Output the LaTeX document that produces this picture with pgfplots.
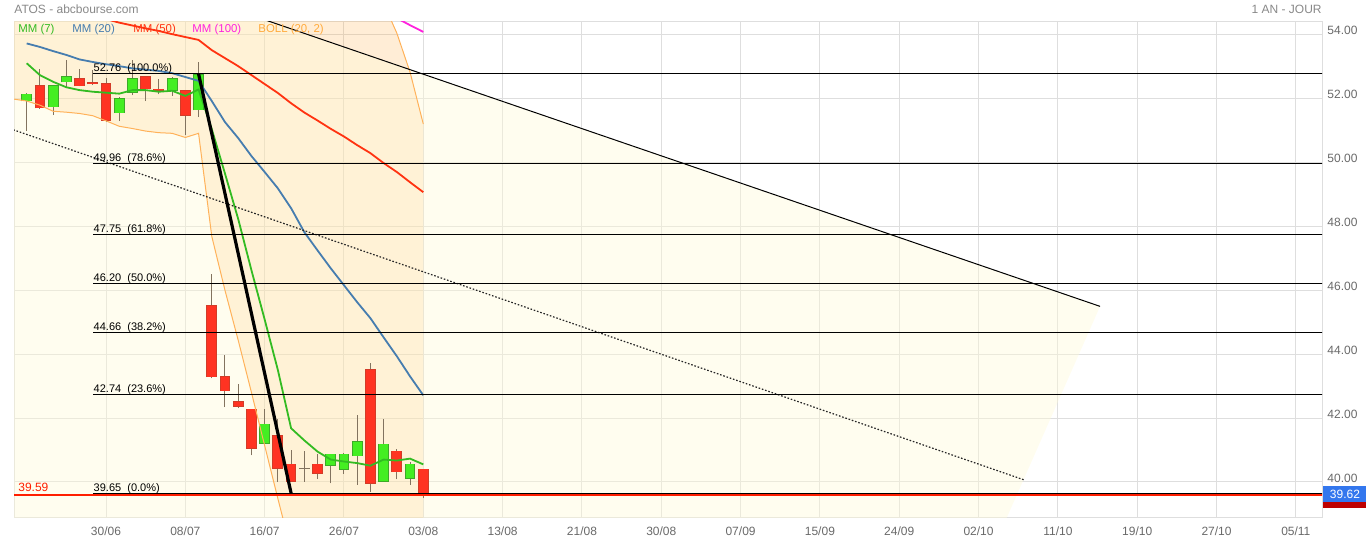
\documentclass[border=0pt]{standalone}
\usepackage{fontspec}
\setmainfont{Liberation Sans}
\usepackage{pgfplots}
\usepackage{pgfplotstable}
\pgfplotsset{compat=1.18}
\usepgfplotslibrary{fillbetween}
\usetikzlibrary{calc}

\definecolor{cream}{RGB}{255,250,215}
\definecolor{bollc}{RGB}{255,170,60}
\definecolor{bollline}{RGB}{255,178,90}
\definecolor{mm7}{RGB}{51,187,34}
\definecolor{mm20}{RGB}{70,125,175}
\definecolor{mm50}{RGB}{255,51,17}
\definecolor{mm100}{RGB}{255,34,221}
\definecolor{gfill}{RGB}{68,238,34}
\definecolor{gdraw}{RGB}{60,170,40}
\definecolor{rfill}{RGB}{255,51,34}
\definecolor{rdraw}{RGB}{210,60,40}
\definecolor{wick}{RGB}{130,115,95}
\definecolor{gridc}{RGB}{222,222,222}
\definecolor{txtc}{RGB}{105,105,105}
\definecolor{titlec}{RGB}{136,136,136}
\definecolor{lblblue}{RGB}{51,119,238}
\definecolor{lblred}{RGB}{190,0,0}
\definecolor{supred}{RGB}{255,30,0}

% x = trading day (0 = 30/06), l = low, lo = body bottom, hi = body top, h = high
\pgfplotstableread{
x l lo hi h
-6 50.97 51.90 52.14 52.16
-4 51.47 51.71 52.40 52.41
-3 52.31 52.49 52.68 53.19
1 51.28 51.53 51.99 52.03
2 52.09 52.17 52.62 53.19
5 52.07 52.23 52.62 52.67
7 51.41 51.62 52.75 53.13
12 41.14 41.20 41.82 42.27
17 39.96 40.50 40.88 40.88
18 40.26 40.38 40.88 40.92
19 39.91 40.81 41.27 42.10
21 40.00 40.00 41.20 41.96
23 39.91 40.10 40.57 40.64
}\greenc

\pgfplotstableread{
x l lo hi h
-5 51.67 51.68 52.40 52.91
-2 52.37 52.37 52.62 52.91
-1 52.41 52.44 52.50 52.88
0 51.25 51.30 52.46 52.63
3 51.91 52.28 52.69 52.69
4 52.12 52.23 52.30 52.60
6 50.84 51.45 52.25 52.25
8 43.24 43.28 45.52 46.49
9 42.34 42.84 43.30 43.96
10 42.31 42.35 42.52 43.05
11 40.83 41.04 42.29 42.29
13 40.00 40.41 41.46 41.96
14 40.00 40.00 40.57 40.99
16 40.10 40.26 40.57 40.88
20 39.68 39.95 43.52 43.71
22 40.08 40.31 40.98 41.02
24 39.49 39.62 40.41 40.42
}\redc

\pgfplotstableread{
x l lo hi h
15 40.00 40.40 40.44 40.96
}\dojic

\pgfplotstableread{
x up lo
-7 54.70 51.97
-6 54.70 51.91
-5 54.68 51.78
-4 54.65 51.59
-3 54.62 51.56
-2 54.60 51.52
-1 54.58 51.45
0 54.58 51.29
1 54.60 51.12
2 54.62 51.05
3 54.63 50.97
4 54.64 50.92
5 54.65 50.90
6 54.66 50.77
7 54.70 50.90
8 55.20 47.68
9 55.60 45.99
10 55.90 44.43
11 56.10 42.80
12 56.20 41.14
13 56.20 39.48
14 56.10 37.86
15 56.00 37.40
16 55.80 37.10
17 55.60 36.90
18 55.40 36.80
19 55.20 36.80
20 55.10 36.90
21 54.96 37.00
22 54.03 37.20
23 52.81 37.40
24 51.19 37.60
}\boll

\tikzset{fibl/.style={anchor=base west, inner sep=0pt, yshift=1pt, font=\fontsize{5.5}{6}\selectfont, text=black}}
\pgfplotsset{
  wickplot/.style={quiver={u=0, v=\thisrow{h}-\thisrow{l}}, wick, line width=0.5pt},
  bodyout/.style={quiver={u=0, v=\thisrow{hi}-\thisrow{lo}}, line width=5.4pt},
  bodyin/.style={quiver={u=0, v=\thisrow{hi}-\thisrow{lo}-0.034}, line width=4.4pt},
  fibline/.style={black, line width=0.55pt},
}

\begin{document}
\begin{tikzpicture}
\begin{axis}[name=ax, scale only axis, width=654pt, height=247.9pt,
  xmin=-6.96, xmax=91.98, ymin=38.88, ymax=54.38,
  xtick={0,6,...,90},
  xticklabels={30/06,08/07,16/07,26/07,03/08,13/08,21/08,30/08,07/09,15/09,24/09,02/10,11/10,19/10,27/10,05/11},
  ytick={40,42,...,54}, yticklabel pos=right,
  major tick length=0pt,
  grid=major, major grid style={draw=gridc, line width=0.5pt},
  axis line style={draw=gridc, line width=0.5pt},
  tick label style={font=\fontsize{6}{7}\selectfont, text=txtc},
  x tick label style={anchor=north, inner sep=0pt, yshift=-4.5pt},
  y tick label style={anchor=west, inner sep=0pt, xshift=2.5pt, yshift=1.8pt,
    /pgf/number format/.cd, fixed, fixed zerofill, precision=2, assume math mode=true},
  clip mode=individual,
]
% cream background region
\addplot[draw=none, fill=cream, fill opacity=0.4] coordinates {(-8,56) (1.07,56) (75.19,45.49) (67.19,38) (-8,38)} -- cycle;
% Bollinger band fill
\addplot[draw=none, name path=bu] table[x=x,y=up]{\boll};
\addplot[draw=none, name path=bl] table[x=x,y=lo]{\boll};
\addplot[bollc, fill opacity=0.21, draw=none] fill between[of=bu and bl];

% candles: wicks
\addplot[wickplot] table[x=x,y=l]{\greenc};
\addplot[wickplot] table[x=x,y=l]{\redc};
\addplot[wickplot] table[x=x,y=l]{\dojic};
% candles: bodies
\addplot[bodyout, gdraw] table[x=x,y=lo]{\greenc};
\addplot[bodyin, gfill] table[x=x,y expr=\thisrow{lo}+0.017]{\greenc};
\addplot[bodyout, rdraw] table[x=x,y=lo]{\redc};
\addplot[bodyin, rfill] table[x=x,y expr=\thisrow{lo}+0.017]{\redc};
\addplot[quiver={u=0, v=\thisrow{hi}-\thisrow{lo}}, line width=5.4pt, wick] table[x=x,y=lo]{\dojic};

% Bollinger lines
\addplot[bollline, line width=0.5pt] table[x=x,y=up]{\boll};
\addplot[bollline, line width=0.5pt] table[x=x,y=lo]{\boll};

% moving averages
\addplot[mm50, line width=0.9pt] coordinates {(0,54.47) (1,54.36) (2,54.27) (3,54.18) (4,54.10) (5,54.00) (6,53.91) (7,53.82) (8,53.50) (9,53.25) (10,53.00) (11,52.72) (12,52.44) (13,52.16) (14,51.84) (15,51.55) (16,51.30) (17,51.04) (18,50.80) (19,50.53) (20,50.28) (21,49.97) (22,49.69) (23,49.37) (24,49.06)};
\addplot[mm100, line width=0.9pt] coordinates {(22,54.50) (23,54.28) (24,54.07)};
\addplot[mm20, line width=0.9pt] coordinates {(-6,53.71) (-5,53.60) (-4,53.47) (-3,53.35) (-2,53.21) (-1,53.13) (0,53.06) (1,53.00) (2,52.93) (3,52.89) (4,52.85) (5,52.78) (6,52.66) (7,52.54) (8,51.91) (9,51.25) (10,50.75) (11,50.19) (12,49.69) (13,49.18) (14,48.56) (15,47.81) (16,47.24) (17,46.68) (18,46.15) (19,45.62) (20,45.12) (21,44.52) (22,43.93) (23,43.30) (24,42.71)};
\addplot[mm7, line width=0.9pt] coordinates {(-6,53.09) (-5,52.72) (-4,52.51) (-3,52.34) (-2,52.25) (-1,52.20) (0,52.17) (1,52.14) (2,52.25) (3,52.25) (4,52.20) (5,52.23) (6,52.07) (7,52.27) (8,51.03) (9,49.64) (10,48.22) (11,46.62) (12,45.08) (13,43.50) (14,41.68) (15,41.30) (16,40.95) (17,40.70) (18,40.64) (19,40.59) (20,40.51) (21,40.70) (22,40.67) (23,40.73) (24,40.55)};

% trend lines
\addplot[black, line width=0.5pt] coordinates {(12,54.45) (75.19,45.49)};
\addplot[black!85, line width=0.6pt, dash pattern=on 0.8pt off 0.9pt] coordinates {(-7.5,51.08) (69.41,40.07)};

% support line
\addplot[supred, line width=1.2pt] coordinates {(-8,39.59) (93,39.59)};

% Fibonacci levels
\addplot[fibline] coordinates {(-0.96,52.76) (93,52.76)};
\addplot[fibline] coordinates {(-0.96,49.96) (93,49.96)};
\addplot[fibline] coordinates {(-0.96,47.75) (93,47.75)};
\addplot[fibline] coordinates {(-0.96,46.20) (93,46.20)};
\addplot[fibline] coordinates {(-0.96,44.66) (93,44.66)};
\addplot[fibline] coordinates {(-0.96,42.74) (93,42.74)};
\addplot[fibline] coordinates {(-0.96,39.65) (93,39.65)};
\addplot[black, line width=1.6pt] coordinates {(7,52.76) (14,39.65)};

\node[fibl] at (axis cs:-0.96,52.76) {52.76\ \ (100.0\%)};
\node[fibl] at (axis cs:-0.96,49.96) {49.96\ \ (78.6\%)};
\node[fibl] at (axis cs:-0.96,47.75) {47.75\ \ (61.8\%)};
\node[fibl] at (axis cs:-0.96,46.20) {46.20\ \ (50.0\%)};
\node[fibl] at (axis cs:-0.96,44.66) {44.66\ \ (38.2\%)};
\node[fibl] at (axis cs:-0.96,42.74) {42.74\ \ (23.6\%)};
\node[fibl] at (axis cs:-0.96,39.65) {39.65\ \ (0.0\%)};

\node[anchor=base west, inner sep=0pt, yshift=1.8pt, font=\fontsize{6}{7}\selectfont, text=supred] at (axis cs:-6.66,39.59) {39.59};

% legend
\node[anchor=west, inner sep=0pt, font=\fontsize{5.7}{6.5}\selectfont, text=mm7] at (axis cs:-6.66,54.14) {MM (7)};
\node[anchor=west, inner sep=0pt, font=\fontsize{5.7}{6.5}\selectfont, text=mm20] at (axis cs:-2.57,54.14) {MM (20)};
\node[anchor=west, inner sep=0pt, font=\fontsize{5.7}{6.5}\selectfont, text=mm50] at (axis cs:2.04,54.14) {MM (50)};
\node[anchor=west, inner sep=0pt, font=\fontsize{5.7}{6.5}\selectfont, text=mm100] at (axis cs:6.51,54.14) {MM (100)};
\node[anchor=west, inner sep=0pt, font=\fontsize{5.7}{6.5}\selectfont, text=bollc] at (axis cs:11.50,54.14) {BOLL (20, 2)};

% right price labels
\node[anchor=west, fill=lblred, minimum width=21.5pt, minimum height=7pt, inner sep=0pt] at (axis cs:91.98,39.40) [xshift=0.5pt] {};
\node[anchor=west, fill=lblblue, text=white, minimum width=21.5pt, minimum height=8pt, inner sep=0pt, font=\fontsize{6}{7}\selectfont] at (axis cs:91.98,39.62) [xshift=0.5pt] {39.62};
\end{axis}
\node[anchor=west, inner sep=0pt, font=\fontsize{6}{7}\selectfont, text=titlec] at ($(ax.north west)+(0,6.5pt)$) {ATOS - abcbourse.com};
\node[anchor=east, inner sep=0pt, font=\fontsize{6}{7}\selectfont, text=titlec] at ($(ax.north east)+(0,6.5pt)$) {1 AN - JOUR};
\pgfresetboundingbox
\path[use as bounding box] ($(ax.south west)+(-7pt,-12pt)$) rectangle ($(ax.north east)+(24.5pt,11pt)$);
\end{tikzpicture}
\end{document}
